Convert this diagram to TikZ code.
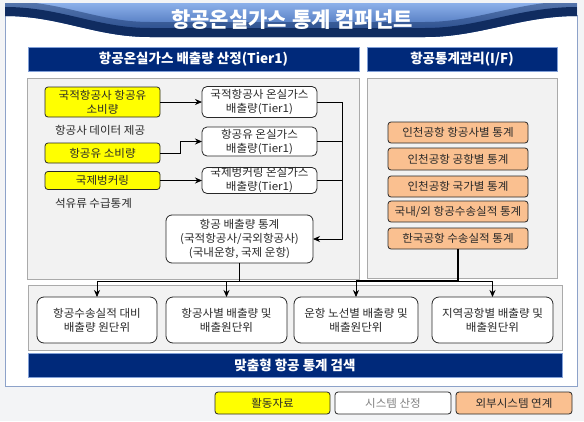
\documentclass[tikz,border=0pt]{standalone}
\usepackage{fontspec}
\setmainfont{Noto Sans CJK KR}
\newfontfamily\bodyfam[FakeStretch=1.05]{Noto Sans CJK KR}
\usetikzlibrary{arrows.meta}
\definecolor{navy}{RGB}{0,41,122}
\definecolor{hdrborder}{RGB}{130,160,215}
\definecolor{panelgray}{RGB}{242,242,242}
\definecolor{panelborder}{RGB}{170,170,170}
\definecolor{boxborder}{RGB}{40,40,40}
\definecolor{ylw}{RGB}{255,255,0}
\definecolor{orng}{RGB}{250,192,144}
\definecolor{framebd}{RGB}{141,162,201}
\definecolor{bgcol}{RGB}{243,244,246}
\definecolor{banlight}{RGB}{140,176,234}
\definecolor{banmid}{RGB}{50,92,168}
\definecolor{bandark}{RGB}{16,44,96}
\definecolor{txt}{RGB}{40,40,40}
\begin{document}
\begin{tikzpicture}[x=1pt,y=-1pt,
  every node/.style={inner sep=0pt,outer sep=0pt,align=center},
  bodyfont/.style={font=\bodyfam\fontsize{11}{14}\selectfont,text=txt},
  hdr/.style={fill=navy,draw=hdrborder,line width=0.8pt,text=white,font=\bfseries\fontsize{13.5}{15}\selectfont},
  panel/.style={fill=panelgray,draw=panelborder,line width=0.8pt},
  ybox/.style={bodyfont,draw=boxborder,fill=ylw,rounded corners=3pt,line width=0.8pt},
  wbox/.style={bodyfont,draw=boxborder,fill=white,rounded corners=5pt,line width=0.8pt},
  bbox/.style={bodyfont,draw=boxborder,fill=white,rounded corners=7pt,line width=0.8pt,minimum height=46pt},
  obox/.style={bodyfont,draw=boxborder,fill=orng,rounded corners=3pt,line width=0.8pt,minimum width=140pt},
  lgd/.style={bodyfont,draw=boxborder,rounded corners=3pt,line width=0.8pt,minimum height=22pt},
  plain/.style={bodyfont},
  conn/.style={draw=black,line width=0.8pt},
  arr/.style={conn,-{Stealth[length=7pt,width=6pt]}},
  thickconn/.style={draw=black,line width=1.6pt}
]
\useasboundingbox (0,0) rectangle (584,421);
\fill[bgcol] (0,0) rectangle (584,421);
% frame
\draw[framebd,fill=white,line width=0.8pt] (5,15) rectangle (577,386);
% banner
\begin{scope}
\clip (5,3) -- (577,3) -- (577,16) .. controls (520,16) and (480,37) .. (425,37) -- (150,37) .. controls (95,37) and (60,16) .. (5,16) -- cycle;
\shade[top color=banlight,bottom color=banmid] (5,3) rectangle (577,38);
\draw[bandark,line width=30pt,opacity=0.45] (5,16) .. controls (60,16) and (95,37) .. (150,37) -- (425,37) .. controls (480,37) and (520,16) .. (577,16);
\draw[bandark,line width=18pt] (5,16) .. controls (60,16) and (95,37) .. (150,37) -- (425,37) .. controls (480,37) and (520,16) .. (577,16);
\end{scope}
\node[text=white,font=\bfseries\fontsize{21}{24}\selectfont] (title) at (292,20) {항공온실가스 통계 컴퍼넌트};
% headers and panels
\node[hdr,minimum width=331pt,minimum height=24pt] (h1) at (193.5,59) {항공온실가스 배출량 산정(Tier1)};
\node[hdr,minimum width=190pt,minimum height=24pt] (h2) at (462,59) {항공통계관리(I/F)};
\node[panel,minimum width=332pt,minimum height=201pt] (p1) at (193,178.5) {};
\node[panel,minimum width=190pt,minimum height=200pt] (p2) at (462,178) {};
\node[panel,minimum width=534pt,minimum height=65pt] (p3) at (295,317.5) {};
\node[hdr,minimum width=534pt,minimum height=24pt] (search) at (295,365) {맞춤형 항공 통계 검색};
% activity data
\node[ybox,minimum width=115pt,minimum height=30pt] (y1) at (102.5,102) {국적항공사 항공유\\소비량};
\node[plain,anchor=west] (t1) at (55,130) {항공사 데이터 제공};
\node[ybox,minimum width=115pt,minimum height=20pt] (y2) at (102.5,153) {항공유 소비량};
\node[ybox,minimum width=115pt,minimum height=18pt] (y3) at (102.5,180.5) {국제벙커링};
\node[plain,anchor=west] (t2) at (55,203) {석유류 수급통계};
% system boxes
\node[wbox,minimum width=115pt,minimum height=31pt] (w1) at (259.5,102) {국적항공사 온실가스\\배출량(Tier1)};
\node[wbox,minimum width=115pt,minimum height=29pt] (w2) at (259.5,141.5) {항공유 온실가스\\배출량(Tier1)};
\node[wbox,minimum width=115pt,minimum height=26pt] (w3) at (259.5,180.5) {국제벙커링 온실가스\\배출량(Tier1)};
\node[wbox,rounded corners=6pt,minimum width=147pt,minimum height=48pt] (stats) at (239.5,239) {항공 배출량 통계\\(국적항공사/국외항공사)\\(국내운항, 국제 운항)};
% external
\node[obox,minimum height=21pt] (o1) at (458,132.5) {인천공항 항공사별 통계};
\node[obox,minimum height=22pt] (o2) at (458,159) {인천공항 공항별 통계};
\node[obox,minimum height=21pt] (o3) at (458,186.5) {인천공항 국가별 통계};
\node[obox,minimum height=21pt] (o4) at (458,211.5) {국내/외 항공수송실적 통계};
\node[obox,minimum height=21pt] (o5) at (458,238.5) {한국공항 수송실적 통계};
% bottom outputs
\node[bbox,minimum width=120pt] (b1) at (97,320) {항공수송실적 대비\\배출량 원단위};
\node[bbox,minimum width=121pt] (b2) at (226.5,320) {항공사별 배출량 및\\배출원단위};
\node[bbox,minimum width=124pt] (b3) at (356,320) {운항 노선별 배출량 및\\배출원단위};
\node[bbox,minimum width=121pt] (b4) at (492.5,320) {지역공항별 배출량 및\\배출원단위};
% legend
\node[lgd,fill=ylw,minimum width=115pt] (l1) at (272.5,403) {활동자료};
\node[lgd,fill=white,minimum width=116pt,text=gray] (l2) at (393,403) {시스템 산정};
\node[lgd,fill=orng,minimum width=116pt] (l3) at (514,403) {외부시스템 연계};
% connectors
\coordinate (y2m) at (180,0);
\coordinate (bend) at (342,239);
\coordinate (bus) at (0,281);
\draw[arr] (y1.east) -- (w1.west);
\draw[arr] (y2.east) -- (y2.east -| y2m) |- (w2.west);
\draw[arr] (y3.east) -- (w3.west);
\draw[conn] (w2.east) -- (w2.east -| bend);
\draw[conn] (w3.east) -- (w3.east -| bend);
\draw[arr] (w1.east) -| (bend) -- (stats.east);
\draw[conn] (stats.south) -- (stats.south |- bus);
\draw[thickconn] (o5.south) -- (o5.south |- bus) -- (b3.north |- bus);
\draw[conn] (b1.north |- bus) -- (b4.north |- bus);
\foreach \b in {b1,b2,b3,b4} \draw[arr] (\b.north |- bus) -- (\b.north);
\end{tikzpicture}
\end{document}
